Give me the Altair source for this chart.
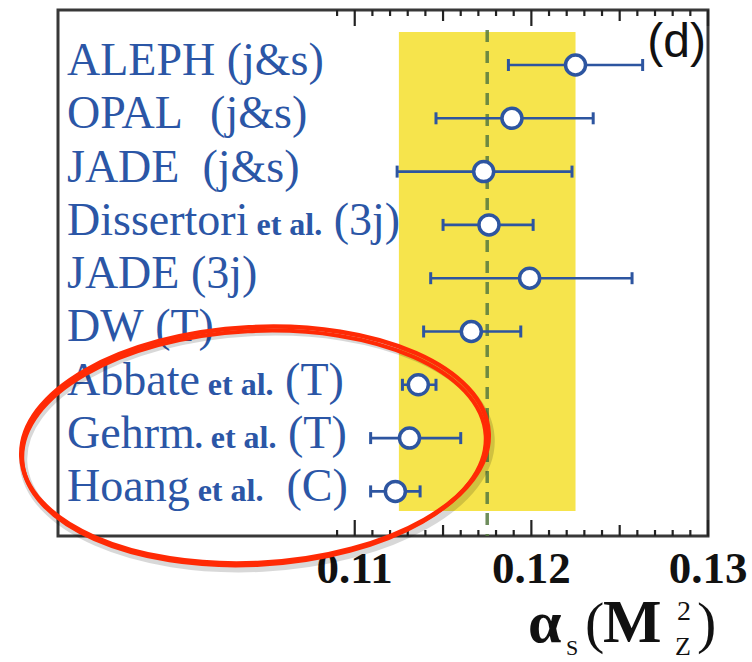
import altair as alt
import pandas as pd

# ---------------- data ----------------
names = ["ALEPH", "OPAL", "JADE", "Dissertori", "JADE", "DW", "Abbate", "Gehrm", "Hoang"]
etal = ["", "", "", " et al.", "", "", " et al.", ". et al.", " et al."]
suffixes = [" (j&s)", "  (j&s)", "  (j&s)", " (3j)", " (3j)", " (T)", " (T)", " (T)", "  (C)"]
alpha_s = [0.1225, 0.1189, 0.1173, 0.1176, 0.1199, 0.1166, 0.1136, 0.1131, 0.1123]
err_lo = [0.1187, 0.1146, 0.1124, 0.1150, 0.1143, 0.1139, 0.1127, 0.1109, 0.1109]
err_hi = [0.1263, 0.1235, 0.1223, 0.1201, 0.1257, 0.1194, 0.1146, 0.1160, 0.1137]
world_avg = [0.1175]
band = [0.1125, 0.1225]
tick_major = [0.11, 0.12, 0.13]
tick_labels = ["0.11", "0.12", "0.13"]
tick_mid = [0.115, 0.125]
tick_minor = [0.109, 0.111, 0.112, 0.113, 0.114, 0.116, 0.117, 0.118, 0.119,
              0.121, 0.122, 0.123, 0.124, 0.126, 0.127, 0.128, 0.129]

# ---------------- layout ----------------
W, H = 650, 526
XDOM = [0.0932, 0.13]
YDOM = [-0.032, 9.837]
BLUE = "#2b56a6"
BAR = "#2d55a0"
SERIF = "Liberation Serif"

REG = {' ': 250, '(': 333, ')': 333, '&': 778, '.': 250, '3': 500, 'A': 722, 'C': 667,
       'D': 722, 'E': 611, 'G': 722, 'H': 722, 'J': 389, 'L': 611, 'O': 722, 'P': 556,
       'T': 611, 'W': 944, 'a': 444, 'b': 500, 'e': 444, 'g': 500, 'h': 500, 'i': 278,
       'j': 278, 'l': 278, 'm': 778, 'n': 500, 'o': 500, 'r': 333, 's': 389, 't': 278}
BOLD = {' ': 250, '.': 250, 'e': 444, 't': 333, 'a': 500, 'l': 278}
MAIN_SIZE, SMALL_SIZE = 46, 32


def tw(s, size, table):
    return sum(table.get(c, 500) for c in s) * size / 1000.0


def px2data(px):
    return XDOM[0] + px / W * (XDOM[1] - XDOM[0])


rows = list(range(1, len(names) + 1))
name_x, mid_x, suf_x, mid_t, suf_t = [], [], [], [], []
for n, m, s in zip(names, etal, suffixes):
    x = 9.0
    name_x.append(px2data(x))
    x += tw(n, MAIN_SIZE, REG)
    lead = len(m) - len(m.lstrip())
    mid_x.append(px2data(x + lead * 250 * SMALL_SIZE / 1000.0))
    mid_t.append(m.lstrip())
    x += tw(m, SMALL_SIZE, BOLD)
    lead = len(s) - len(s.lstrip())
    suf_x.append(px2data(x + lead * 250 * MAIN_SIZE / 1000.0))
    suf_t.append(s.lstrip())

df = pd.DataFrame({
    "row": rows, "name": names, "mid": mid_t, "suf": suf_t,
    "name_x": name_x, "mid_x": mid_x, "suf_x": suf_x,
    "val": alpha_s, "lo": err_lo, "hi": err_hi,
})

xs = alt.Scale(domain=XDOM, nice=False, zero=False)
ys = alt.Scale(domain=YDOM, nice=False, zero=False, reverse=True)

band_layer = alt.Chart(pd.DataFrame({"lo": [band[0]], "hi": [band[1]]})).mark_rect(
    color="#f6e44c").encode(
    x=alt.X("lo:Q", scale=xs, axis=None), x2="hi:Q",
    y=alt.value(22), y2=alt.value(501))

avg_layer = alt.Chart(pd.DataFrame({"v": world_avg})).mark_rule(
    color="#55793f", strokeDash=[12, 9], strokeWidth=3.5, opacity=0.85).encode(
    x=alt.X("v:Q", scale=xs, axis=None), y=alt.value(20), y2=alt.value(H))

tick_layers = []
for vals, ln in [(tick_major, 16), (tick_mid, 11), (tick_minor, 6)]:
    tdf = pd.DataFrame({"t": vals})
    for y0, y1 in [(H, H - ln), (0, ln)]:
        tick_layers.append(alt.Chart(tdf).mark_rule(color="#222222", strokeWidth=2.2).encode(
            x=alt.X("t:Q", scale=xs, axis=None), y=alt.value(y0), y2=alt.value(y1)))

tick_text = alt.Chart(pd.DataFrame({"t": tick_major, "lab": tick_labels})).mark_text(
    align="center", baseline="alphabetic", font=SERIF, fontSize=45, fontWeight="bold",
    color="#111111").encode(
    x=alt.X("t:Q", scale=xs, axis=None), y=alt.value(H + 47), text="lab:N")

base = alt.Chart(df)
ycode = alt.Y("row:Q", scale=ys, axis=None)

err_layer = base.mark_rule(color=BAR, strokeWidth=2.6).encode(
    x=alt.X("lo:Q", scale=xs, axis=None), x2="hi:Q", y=ycode)
cap_lo = base.mark_tick(orient="vertical", size=12, thickness=3, color=BAR, opacity=1).encode(
    x=alt.X("lo:Q", scale=xs, axis=None), y=ycode)
cap_hi = base.mark_tick(orient="vertical", size=12, thickness=3, color=BAR, opacity=1).encode(
    x=alt.X("hi:Q", scale=xs, axis=None), y=ycode)
pt_layer = base.mark_point(shape="circle", filled=False, fill="white", stroke=BAR,
                           strokeWidth=3.5, size=400, opacity=1).encode(
    x=alt.X("val:Q", scale=xs, axis=None), y=ycode)

lab_name = base.mark_text(align="left", baseline="alphabetic", dy=10, font=SERIF,
                          fontSize=MAIN_SIZE, color=BLUE).encode(
    x=alt.X("name_x:Q", scale=xs, axis=None), y=ycode, text="name:N")
lab_mid = base.mark_text(align="left", baseline="alphabetic", dy=10, font=SERIF,
                         fontSize=SMALL_SIZE, fontWeight="bold", color=BLUE).encode(
    x=alt.X("mid_x:Q", scale=xs, axis=None), y=ycode, text="mid:N")
lab_suf = base.mark_text(align="left", baseline="alphabetic", dy=10, font=SERIF,
                         fontSize=MAIN_SIZE, color=BLUE).encode(
    x=alt.X("suf_x:Q", scale=xs, axis=None), y=ycode, text="suf:N")

panel = alt.Chart(pd.DataFrame({"a": [0]})).mark_text(
    text="(d)", align="right", baseline="alphabetic", font="Liberation Sans",
    fontSize=48, color="#111111").encode(x=alt.value(648), y=alt.value(47))

title_parts = [
    ("\u03b1", 470, 632, 60, "bold"),
    ("S", 508, 645, 22, "normal"),
    ("(", 527, 632, 58, "normal"),
    ("M", 545, 632, 62, "bold"),
    ("2", 619, 610, 28, "normal"),
    ("Z", 617, 645, 26, "normal"),
    (")", 639, 632, 58, "normal"),
]
title_layers = []
for t, x, y, fs, fw in title_parts:
    title_layers.append(alt.Chart(pd.DataFrame({"a": [0]})).mark_text(
        text=t, align="left", baseline="alphabetic", font=SERIF, fontSize=fs,
        fontWeight=fw, color="#111111").encode(x=alt.value(x), y=alt.value(y)))

ELLIPSE = "M -1 0 A 1 0.504 0 1 1 1 0 A 1 0.504 0 1 1 -1 0 Z"
ell_shadow = alt.Chart(pd.DataFrame({"a": [0]})).mark_point(
    shape=ELLIPSE, filled=False, stroke="#000000", strokeWidth=8, size=468 ** 2,
    angle=357, opacity=0.15).encode(x=alt.value(199), y=alt.value(440))
ell_a = alt.Chart(pd.DataFrame({"a": [0]})).mark_point(
    shape=ELLIPSE, filled=False, stroke="#ff2a05", strokeWidth=4.5, size=468 ** 2,
    angle=357, opacity=1).encode(x=alt.value(197), y=alt.value(435))
ell_b = alt.Chart(pd.DataFrame({"a": [0]})).mark_point(
    shape=ELLIPSE, filled=False, stroke="#ff2a05", strokeWidth=4, size=464 ** 2,
    angle=357, opacity=1).encode(x=alt.value(196), y=alt.value(438))

chart = alt.layer(
    band_layer, avg_layer, *tick_layers, tick_text, err_layer, cap_lo, cap_hi, pt_layer,
    lab_name, lab_mid, lab_suf, panel, *title_layers, ell_shadow, ell_a, ell_b
).properties(
    width=W, height=H,
    autosize=alt.AutoSizeParams(type="none"),
    padding={"left": 58, "top": 10, "right": 44, "bottom": 126},
).configure_view(stroke="#383838", strokeWidth=3)

chart.save("out.html", embed_options={"renderer": "svg", "actions": False})
